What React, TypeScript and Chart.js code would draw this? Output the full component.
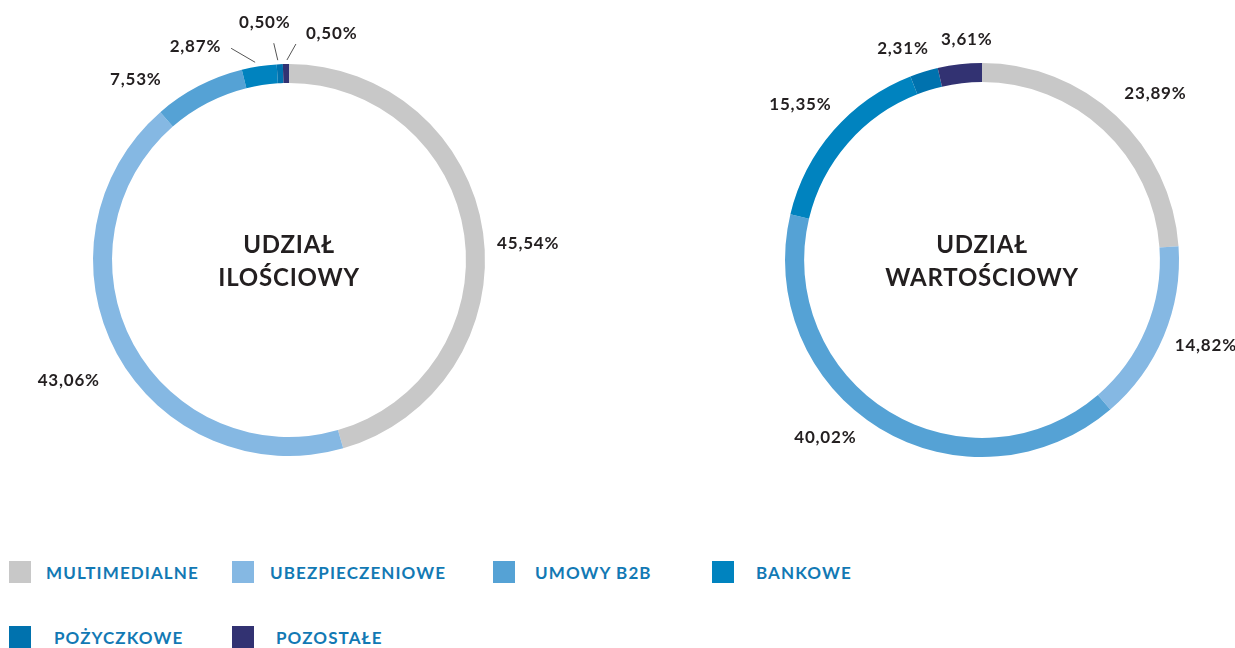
import React, { useEffect, useRef } from "react";
import { Chart, registerables } from "chart.js";

Chart.register(...registerables);

const categories = ["MULTIMEDIALNE", "UBEZPIECZENIOWE", "UMOWY B2B", "BANKOWE", "POŻYCZKOWE", "POZOSTAŁE"];
const quantityShare = [45.54, 43.06, 7.53, 2.87, 0.5, 0.5];
const valueShare = [23.89, 14.82, 40.02, 15.35, 2.31, 3.61];
const quantityTitle = ["UDZIAŁ", "ILOŚCIOWY"];
const valueTitle = ["UDZIAŁ", "WARTOŚCIOWY"];
const colors = ["#C8C8C8", "#85B8E3", "#55A2D5", "#0083BF", "#0072AE", "#323272"];

type LabelLayout = { dx: number; dy: number; align: CanvasTextAlign; leader?: number[] };

const quantityLabelLayout: LabelLayout[] = [
  { dx: 14, dy: 11, align: "left" },
  { dx: -17, dy: 27, align: "right" },
  { dx: -37, dy: -7, align: "right" },
  { dx: -38, dy: -20, align: "right", leader: [-4, -4, -28, -18] },
  { dx: -15, dy: -42, align: "center", leader: [-2, -4, -6, -21] },
  { dx: 20, dy: -31, align: "left", leader: [1, -4, 10, -20] },
];
const valueLabelLayout: LabelLayout[] = [
  { dx: 8, dy: -22, align: "left" },
  { dx: 11, dy: 10, align: "left" },
  { dx: -23, dy: 9, align: "right" },
  { dx: -2, dy: -26, align: "right" },
  { dx: -21, dy: -23, align: "center" },
  { dx: 7, dy: -25, align: "center" },
];

const fmt = (v: number) => v.toFixed(2).replace(".", ",") + "%";

const ringLabels = {
  id: "ringLabels",
  afterDatasetsDraw(chart: any, _args: any, opts: any) {
    const ctx = chart.ctx as any;
    const meta = chart.getDatasetMeta(0);
    const data = chart.data.datasets[0].data as number[];
    ctx.save();
    let cx = 0;
    let cy = 0;
    meta.data.forEach((arc: any, i: number) => {
      const { x, y, startAngle, endAngle, outerRadius } = arc.getProps(
        ["x", "y", "startAngle", "endAngle", "outerRadius"],
        true
      );
      cx = x;
      cy = y;
      const mid = (startAngle + endAngle) / 2;
      const px = x + Math.cos(mid) * outerRadius;
      const py = y + Math.sin(mid) * outerRadius;
      const l: LabelLayout = opts.layout[i];
      if (l.leader) {
        ctx.strokeStyle = "#555";
        ctx.lineWidth = 1;
        ctx.beginPath();
        ctx.moveTo(px + l.leader[0], py + l.leader[1]);
        ctx.lineTo(px + l.leader[2], py + l.leader[3]);
        ctx.stroke();
      }
      ctx.font = "700 17px Lato";
      ctx.letterSpacing = "0.8px";
      ctx.fillStyle = "#231F20";
      ctx.textBaseline = "middle";
      ctx.textAlign = l.align;
      ctx.fillText(fmt(data[i]), px + l.dx, py + l.dy);
    });
    ctx.font = "700 24px Lato";
    ctx.letterSpacing = "0.8px";
    ctx.fillStyle = "#231F20";
    ctx.textAlign = "center";
    ctx.textBaseline = "middle";
    ctx.fillText(opts.title[0], cx, cy - 15);
    ctx.fillText(opts.title[1], cx, cy + 18);
    ctx.restore();
  },
};

function Ring(props: {
  values: number[];
  title: string[];
  layout: LabelLayout[];
  width: number;
  height: number;
  left: number;
  padding: { left: number; right: number; top: number; bottom: number };
}) {
  const ref = useRef<HTMLCanvasElement | null>(null);
  useEffect(() => {
    if (!ref.current) return;
    const chart = new Chart(ref.current, {
      type: "doughnut",
      data: {
        labels: categories,
        datasets: [
          {
            data: props.values,
            backgroundColor: colors,
            borderWidth: 0,
            hoverOffset: 0,
            offset: 0,
          },
        ],
      },
      options: {
        responsive: false,
        maintainAspectRatio: false,
        animation: false,
        cutout: "90.3%",
        layout: { padding: props.padding },
        plugins: {
          legend: { display: false },
          tooltip: { enabled: false },
          ringLabels: { layout: props.layout, title: props.title },
        } as any,
      },
      plugins: [ringLabels as any],
    });
    return () => chart.destroy();
  }, []);
  return (
    <canvas
      ref={ref}
      width={props.width}
      height={props.height}
      style={{ position: "absolute", left: props.left, top: 0, width: props.width, height: props.height }}
    />
  );
}

const legendSlots = [
  { left: 9, top: 561, gap: 15 },
  { left: 232, top: 561, gap: 16 },
  { left: 493, top: 561, gap: 20 },
  { left: 712, top: 561, gap: 22 },
  { left: 9, top: 626, gap: 23 },
  { left: 232, top: 626, gap: 22 },
];

export default function App() {
  return (
    <div
      style={{
        position: "absolute",
        left: 0,
        top: 0,
        width: 1235,
        height: 648,
        background: "#fff",
        overflow: "hidden",
      }}
    >
      <Ring
        values={quantityShare}
        title={quantityTitle}
        layout={quantityLabelLayout}
        width={617}
        height={520}
        left={0}
        padding={{ left: 93, right: 132, top: 64, bottom: 64 }}
      />
      <Ring
        values={valueShare}
        title={valueTitle}
        layout={valueLabelLayout}
        width={618}
        height={520}
        left={617}
        padding={{ left: 168, right: 56, top: 63, bottom: 63 }}
      />
      {categories.map((c, i) => (
        <div
          key={c}
          style={{
            position: "absolute",
            left: legendSlots[i].left,
            top: legendSlots[i].top,
            height: 22,
            display: "flex",
            alignItems: "center",
            whiteSpace: "nowrap",
          }}
        >
          <span style={{ width: 22, height: 22, background: colors[i], display: "inline-block" }} />
          <span
            style={{
              marginLeft: legendSlots[i].gap,
              color: "#1279B4",
              font: "700 17px Lato",
              letterSpacing: 1.1,
            }}
          >
            {c}
          </span>
        </div>
      ))}
    </div>
  );
}
